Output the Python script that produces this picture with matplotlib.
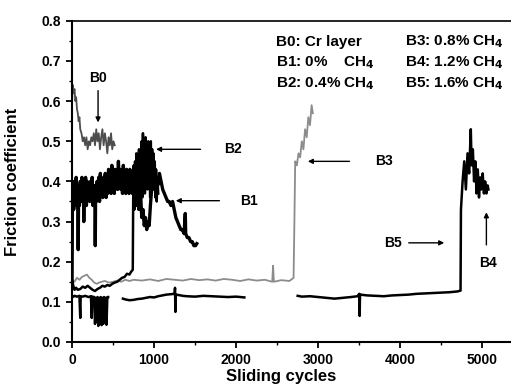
import matplotlib
matplotlib.use("Agg")
import matplotlib.pyplot as plt
import numpy as np

plt.rcParams['font.family'] = ['Liberation Sans', 'DejaVu Sans']
plt.rcParams['font.weight'] = 'bold'

# B0: Cr layer
b0_x = [0, 10, 20, 30, 40, 50, 60, 70, 80, 90, 100, 115, 130, 145, 160, 175, 190, 205, 220, 235,
        250, 265, 280, 295, 310, 325, 340, 355, 370, 385, 400, 415, 430, 445, 460, 475, 490, 505, 520]
b0_y = [0.60, 0.64, 0.62, 0.63, 0.60, 0.61, 0.58, 0.57, 0.55, 0.56, 0.53, 0.52, 0.50, 0.51, 0.49,
        0.51, 0.48, 0.50, 0.49, 0.51, 0.50, 0.52, 0.49, 0.53, 0.50, 0.52, 0.48, 0.51, 0.53, 0.49,
        0.52, 0.50, 0.47, 0.51, 0.49, 0.52, 0.48, 0.50, 0.49]

# B1: 0% CH4
b1_x = [0, 5, 10, 20, 30, 40, 50, 60, 70, 75, 80, 90, 100, 110, 120, 130, 140, 143, 147, 155,
        165, 175, 185, 195, 205, 215, 225, 235, 245, 255, 265, 275, 280, 283, 287, 295, 305, 315,
        325, 335, 345, 355, 365, 375, 385, 395, 405, 415, 425, 435, 445, 455, 465, 475, 485, 495,
        505, 515, 525, 535, 545, 555, 565, 575, 585, 595, 605, 615, 625, 635, 645, 655, 665, 675,
        685, 695, 705, 715, 725, 735, 745, 760, 775, 790, 805, 820, 835, 850, 865, 880, 895, 910,
        925, 940, 955, 970, 985, 1005, 1025, 1045, 1065, 1085, 1105, 1125, 1145, 1165, 1185, 1205,
        1225, 1245, 1265, 1285, 1305, 1325, 1345, 1365, 1380, 1385, 1405, 1425, 1445, 1465, 1485,
        1505, 1520]
b1_y = [0.15, 0.36, 0.40, 0.33, 0.39, 0.35, 0.41, 0.34, 0.39, 0.23, 0.38, 0.34, 0.40, 0.35, 0.41,
        0.36, 0.39, 0.30, 0.38, 0.35, 0.41, 0.34, 0.40, 0.36, 0.39, 0.35, 0.40, 0.36, 0.41, 0.34,
        0.39, 0.36, 0.38, 0.24, 0.37, 0.35, 0.40, 0.36, 0.41, 0.35, 0.42, 0.37, 0.40, 0.36, 0.41,
        0.37, 0.42, 0.36, 0.40, 0.37, 0.43, 0.38, 0.41, 0.37, 0.44, 0.38, 0.42, 0.37, 0.43, 0.39,
        0.42, 0.38, 0.45, 0.39, 0.43, 0.38, 0.42, 0.37, 0.44, 0.38, 0.42, 0.37, 0.43, 0.38, 0.41,
        0.37, 0.43, 0.38, 0.42, 0.37, 0.40, 0.36, 0.40, 0.34, 0.39, 0.33, 0.37, 0.31, 0.33, 0.29,
        0.31, 0.28, 0.30, 0.29, 0.34, 0.38, 0.41, 0.38, 0.41, 0.39, 0.42, 0.40, 0.38, 0.37, 0.36,
        0.35, 0.35, 0.34, 0.35, 0.33, 0.31, 0.30, 0.29, 0.28, 0.28, 0.27, 0.32, 0.27, 0.26, 0.26,
        0.25, 0.25, 0.24, 0.24, 0.245]

# B2: 0.4% CH4
b2_x = [0, 15, 30, 50, 70, 100, 130, 160, 190, 220, 250, 280, 310, 340, 370, 400, 430, 460, 490,
        520, 550, 580, 610, 640, 670, 700, 720, 740, 745, 752, 760, 768, 776, 784, 792, 800, 808,
        816, 824, 832, 840, 848, 856, 864, 872, 880, 888, 896, 904, 912, 920, 928, 936, 944, 952,
        960, 968, 976, 984, 992, 1000, 1008, 1016, 1024, 1032, 1040, 1050]
b2_y = [0.155, 0.14, 0.13, 0.135, 0.13, 0.132, 0.138, 0.135, 0.14, 0.135, 0.13, 0.127, 0.132,
        0.135, 0.14, 0.138, 0.142, 0.14, 0.145, 0.148, 0.15, 0.155, 0.16, 0.162, 0.17, 0.168,
        0.175, 0.18, 0.35, 0.44, 0.33, 0.45, 0.34, 0.47, 0.36, 0.46, 0.33, 0.48, 0.35, 0.47, 0.38,
        0.50, 0.36, 0.52, 0.40, 0.49, 0.37, 0.51, 0.42, 0.48, 0.38, 0.50, 0.43, 0.47, 0.36, 0.50,
        0.40, 0.48, 0.42, 0.47, 0.38, 0.45, 0.36, 0.43, 0.35, 0.41, 0.37]

# B3: 0.8% CH4
b3_x = [0, 30, 60, 90, 120, 150, 180, 210, 240, 270, 300, 330, 360, 400, 450, 500, 550, 600, 650,
        700, 750, 850, 950, 1050, 1150, 1250, 1350, 1450, 1550, 1650, 1750, 1850, 1950, 2050, 2150,
        2250, 2350, 2440, 2450, 2460, 2550, 2650, 2700, 2710, 2720, 2740, 2760, 2780, 2800, 2820,
        2840, 2860, 2880, 2900, 2920, 2935]
b3_y = [0.155, 0.15, 0.16, 0.155, 0.162, 0.165, 0.168, 0.16, 0.155, 0.148, 0.145, 0.148, 0.15,
        0.152, 0.148, 0.15, 0.153, 0.15, 0.155, 0.152, 0.155, 0.153, 0.156, 0.152, 0.157, 0.155,
        0.153, 0.157, 0.154, 0.156, 0.153, 0.157, 0.155, 0.152, 0.156, 0.153, 0.155, 0.15, 0.19,
        0.15, 0.154, 0.152, 0.16, 0.30, 0.45, 0.44, 0.47, 0.46, 0.50, 0.48, 0.53, 0.51, 0.56,
        0.54, 0.59, 0.57]

# B5: 1.6% CH4 (with gaps in the record)
b5_x = [0, 10, 30, 60, 90, 100, 105, 130, 160, 200, 230, 240, 245, 270, 280, 290, 300, 310, 320,
        330, 340, 350, 360, 370, 380, 390, 400, 410, 420, 430, 440, 450, 620, 650, 700, 750, 800,
        850, 900, 950, 1000, 1050, 1100, 1150, 1200, 1250, 1255, 1260, 1265, 1300, 1350, 1400,
        1500, 1600, 1700, 1800, 1900, 2000, 2100, 2150, 2750, 2800, 2900, 3000, 3100, 3200, 3300,
        3400, 3480, 3500, 3505, 3510, 3600, 3700, 3800, 3900, 4000, 4100, 4200, 4300, 4400, 4500,
        4600, 4700, 4735, 4740, 4760, 4780, 4800, 4820, 4840, 4860, 4870, 4885, 4900, 4915, 4930,
        4945, 4960, 4975, 4990, 5005, 5020, 5035, 5050, 5065, 5075]
b5_y = [0.115, 0.112, 0.115, 0.113, 0.115, 0.06, 0.114, 0.113, 0.115, 0.112, 0.114, 0.06, 0.113,
        0.112, 0.045, 0.11, 0.05, 0.112, 0.04, 0.11, 0.048, 0.112, 0.042, 0.11, 0.045, 0.112, 0.05,
        0.11, 0.043, 0.112, 0.112, np.nan, 0.108, 0.106, 0.104, 0.105, 0.107, 0.108, 0.11, 0.112,
        0.111, 0.114, 0.116, 0.118, 0.119, 0.12, 0.135, 0.075, 0.118, 0.117, 0.115, 0.114, 0.113,
        0.115, 0.114, 0.113, 0.112, 0.113, 0.111, np.nan, 0.115, 0.113, 0.114, 0.112, 0.11, 0.108,
        0.11, 0.112, 0.114, 0.12, 0.065, 0.118, 0.116, 0.115, 0.114, 0.116, 0.117, 0.118, 0.12,
        0.121, 0.122, 0.123, 0.124, 0.126, 0.128, 0.33, 0.40, 0.45, 0.38, 0.47, 0.42, 0.53, 0.44,
        0.48, 0.40, 0.45, 0.37, 0.43, 0.36, 0.41, 0.38, 0.42, 0.37, 0.40, 0.37, 0.39, 0.38]

legend_left = ["B0: Cr layer", "B1: 0%    CH$_4$", "B2: 0.4% CH$_4$"]
legend_right = ["B3: 0.8% CH$_4$", "B4: 1.2% CH$_4$", "B5: 1.6% CH$_4$"]

fig = plt.figure(figsize=(5.11, 3.86), dpi=100)
ax = fig.add_axes([0.141, 0.114, 0.859, 0.832])

ax.plot(b3_x, b3_y, color='0.55', lw=1.3)
ax.plot(b0_x, b0_y, color='0.3', lw=1.3)
ax.plot(b2_x, b2_y, color='black', lw=1.8)
ax.plot(b1_x, b1_y, color='black', lw=2.4)
ax.plot(b5_x, b5_y, color='black', lw=1.8)

arrow = dict(arrowstyle='-|>', color='black', lw=1, mutation_scale=7)
tfont = dict(fontsize=10, fontweight='bold')
ax.annotate("B0", xy=(317, 0.54), xytext=(317, 0.64), ha='center', va='bottom', arrowprops=arrow, **tfont)
ax.annotate("", xy=(990, 0.48), xytext=(1600, 0.48), arrowprops=arrow)
ax.text(1850, 0.48, "B2", ha='left', va='center', **tfont)
ax.annotate("", xy=(1230, 0.352), xytext=(1830, 0.352), arrowprops=arrow)
ax.text(2050, 0.352, "B1", ha='left', va='center', **tfont)
ax.annotate("", xy=(2840, 0.45), xytext=(3415, 0.45), arrowprops=arrow)
ax.text(3700, 0.45, "B3", ha='left', va='center', **tfont)
ax.annotate("", xy=(4570, 0.247), xytext=(4070, 0.247), arrowprops=arrow)
ax.text(3915, 0.247, "B5", ha='center', va='center', **tfont)
ax.annotate("", xy=(5050, 0.33), xytext=(5050, 0.235), arrowprops=arrow)
ax.text(5070, 0.197, "B4", ha='center', va='center', **tfont)

for i, s in enumerate(legend_left):
    ax.text(0.464, 0.935 - i * 0.066, s, transform=ax.transAxes, fontsize=11, fontweight='bold', va='center')
for i, s in enumerate(legend_right):
    ax.text(0.758, 0.935 - i * 0.066, s, transform=ax.transAxes, fontsize=11, fontweight='bold', va='center')

ax.set_xlim(0, 5350)
ax.set_ylim(0, 0.8)
ax.set_xticks([0, 1000, 2000, 3000, 4000, 5000])
ax.set_xticks(np.arange(500, 5400, 1000), minor=True)
ax.set_yticks(np.arange(0, 0.81, 0.1))
ax.set_yticks(np.arange(0.05, 0.8, 0.1), minor=True)
ax.yaxis.set_major_formatter(matplotlib.ticker.FormatStrFormatter('%.1f'))
ax.tick_params(which='major', direction='out', length=4, width=1.3, labelsize=10, pad=4)
ax.tick_params(which='minor', direction='out', length=2.5, width=1)
ax.spines['right'].set_visible(False)
for s in ['left', 'bottom']:
    ax.spines[s].set_linewidth(1.5)
ax.spines['top'].set_linewidth(1.2)

ax.set_xlabel("Sliding cycles", fontsize=12, fontweight='bold')
ax.set_ylabel("Friction coefficient", fontsize=12, fontweight='bold')
ax.xaxis.set_label_coords(0.476, -0.085)
ax.yaxis.set_label_coords(-0.118, 0.5)

fig.savefig("out.png", dpi=100)
